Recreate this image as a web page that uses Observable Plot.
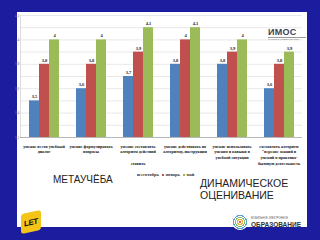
<!DOCTYPE html>
<html><head><meta charset="utf-8">
<script src="https://cdn.jsdelivr.net/npm/d3@7"></script>
<script src="https://cdn.jsdelivr.net/npm/@observablehq/plot@0.6"></script>
<style>
html,body{margin:0;padding:0;}
body{width:320px;height:240px;background:#1c1c9e;position:relative;overflow:hidden;font-family:"Liberation Sans",Arial,sans-serif;}
#panel{position:absolute;left:17px;top:12px;width:290px;height:215px;background:#fff;}
#chart{position:absolute;left:0;top:0;}
#legend{position:absolute;left:134px;top:172px;font:bold 4.5px "Liberation Serif",serif;color:#333;white-space:nowrap;}
#legend span.sw{display:inline-block;width:2.5px;height:2.5px;margin:0 1px 0 3px;vertical-align:middle;}
.big{position:absolute;color:#222;font-size:10.5px;line-height:12px;}
#imos{position:absolute;left:268px;top:27px;width:40px;text-align:left;}
#imos .t{font:bold 9px "Liberation Sans",sans-serif;color:#3b3f55;letter-spacing:0.3px;}
#imos .s{font:2.2px sans-serif;color:#777;border-top:0.5px solid #999;width:38px;}
#let{position:absolute;left:21px;top:212px;width:20px;height:20px;background:#f4c419;border-radius:3px;transform:skewY(-12deg);}
#let b{position:absolute;left:3px;top:6px;font:bold 8px "Liberation Sans",sans-serif;color:#111;letter-spacing:-0.5px;}
#moe{position:absolute;left:232px;top:214px;}
#moe .c{position:absolute;left:0;top:0;width:16px;height:16px;border-radius:50%;background:repeating-radial-gradient(circle,#e25a4a 0 1px,#fff 1px 2px,#f0b43c 2px 3px,#fff 3px 4px,#7cbf6a 4px 5px,#fff 5px 6px,#5aa0d8 6px 7px,#fff 7px 8px);}
#moe .a{position:absolute;left:19px;top:3px;font:2.6px sans-serif;color:#555;white-space:nowrap;}
#moe .b{position:absolute;left:19px;top:7px;font:bold 6.5px "Liberation Sans",sans-serif;color:#333;white-space:nowrap;}
</style></head><body>
<div id="panel"></div>
<div id="chart"></div>
<div id="legend"></div>
<div class="big" style="left:53px;top:174px;font-size:10px;">МЕТАУЧЁБА</div>
<div class="big" style="left:200px;top:177px;">ДИНАМИЧЕСКОЕ<br>ОЦЕНИВАНИЕ</div>
<div id="imos"><div class="t">ИМОС</div><div class="s">ИНСТИТУТ МОДЕРНИЗАЦИИ</div></div>
<div id="let"><b>LET</b></div>
<div id="moe"><div class="c"></div><div class="a">МОБИЛЬНОЕ ЭЛЕКТРОННОЕ</div><div class="b">ОБРАЗОВАНИЕ</div></div>
<script>
const categories = [
  "умение вести учебный диалог",
  "умение формулировать вопросы",
  "умение составлять алгоритм действий ставить",
  "умение действовать по алгоритму, инструкции",
  "умение использовать умения и навыки в учебной ситуации",
  "составлять алгоритм \"перенос знаний и умений в практико-бытовую деятельность"
];
const categoryLabels = [
  "умение вести учебный\nдиалог",
  "умение формулировать\nвопросы",
  "умение составлять\nалгоритм действий\n\nставить",
  "умение действовать по\nалгоритму, инструкции",
  "умение использовать\nумения и навыки в\nучебной ситуации",
  "составлять алгоритм\n\"перенос знаний и\nумений в практико-\nбытовую деятельность"
];
const seriesNames = ["сентябрь", "январь", "май"];
const september = [3.5, 3.6, 3.7, 3.8, 3.8, 3.6];
const january   = [3.8, 3.8, 3.9, 4.0, 3.9, 3.8];
const may       = [4.0, 4.0, 4.1, 4.1, 4.0, 3.9];
const seriesColors = ["#4f81bd", "#c0504d", "#9bbb59"];
const yDomain = [3.2, 4.2];
const yTicks = [3.2, 3.4, 3.6, 3.8, 4.0, 4.2];
const yGrid = [3.3, 3.4, 3.5, 3.6, 3.7, 3.8, 3.9, 4.0, 4.1, 4.2];

const seriesValues = [september, january, may];
const rows = categories.flatMap((c, i) =>
  seriesNames.map((s, j) => ({category: c, series: s, value: seriesValues[j][i]})));
const fmt = v => String(+v.toFixed(1)).replace(".", ",");

const chart = Plot.plot({
  width: 320, height: 172,
  marginLeft: 20, marginRight: 18, marginTop: 15, marginBottom: 35,
  style: {background: "transparent", overflow: "visible"},
  fx: {domain: categories, padding: 0, label: null},
  x: {domain: seriesNames, paddingInner: 0, paddingOuter: 0.78, axis: null},
  y: {domain: yDomain, label: null},
  color: {domain: seriesNames, range: seriesColors},
  marks: [
    Plot.ruleY(yGrid, {stroke: "#d9d9d9", strokeWidth: 0.6}),
    Plot.frame({anchor: "left", facetAnchor: "left", stroke: "#c8c8c8", strokeWidth: 0.6}),
    Plot.barY(rows, {fx: "category", x: "series", y: "value", fill: "series", clip: true}),
    Plot.ruleY([yDomain[0]], {stroke: "#a6a6a6", strokeWidth: 0.8}),
    Plot.text(rows, {fx: "category", x: "series", y: "value", text: d => fmt(d.value), dy: -4,
      fontSize: 4.5, fontWeight: "bold", fontFamily: "Liberation Serif", fill: "#222"}),
    Plot.axisY(yTicks, {tickSize: 0, tickPadding: 1.2, fontSize: 3.2, tickFormat: fmt, fill: "#777", label: null}),
    Plot.axisFx({anchor: "bottom", tickSize: 0, tickPadding: 6, fontSize: 4.1, fontWeight: "bold",
      fontFamily: "Liberation Serif", lineHeight: 1.4, fill: "#111", label: null,
      tickFormat: c => categoryLabels[categories.indexOf(c)]})
  ]
});
document.getElementById("chart").appendChild(chart);

const legend = document.getElementById("legend");
seriesNames.forEach((s, i) => {
  const sw = document.createElement("span");
  sw.className = "sw"; sw.style.background = seriesColors[i];
  legend.appendChild(sw);
  legend.appendChild(document.createTextNode(s));
});
</script>
</body></html>
